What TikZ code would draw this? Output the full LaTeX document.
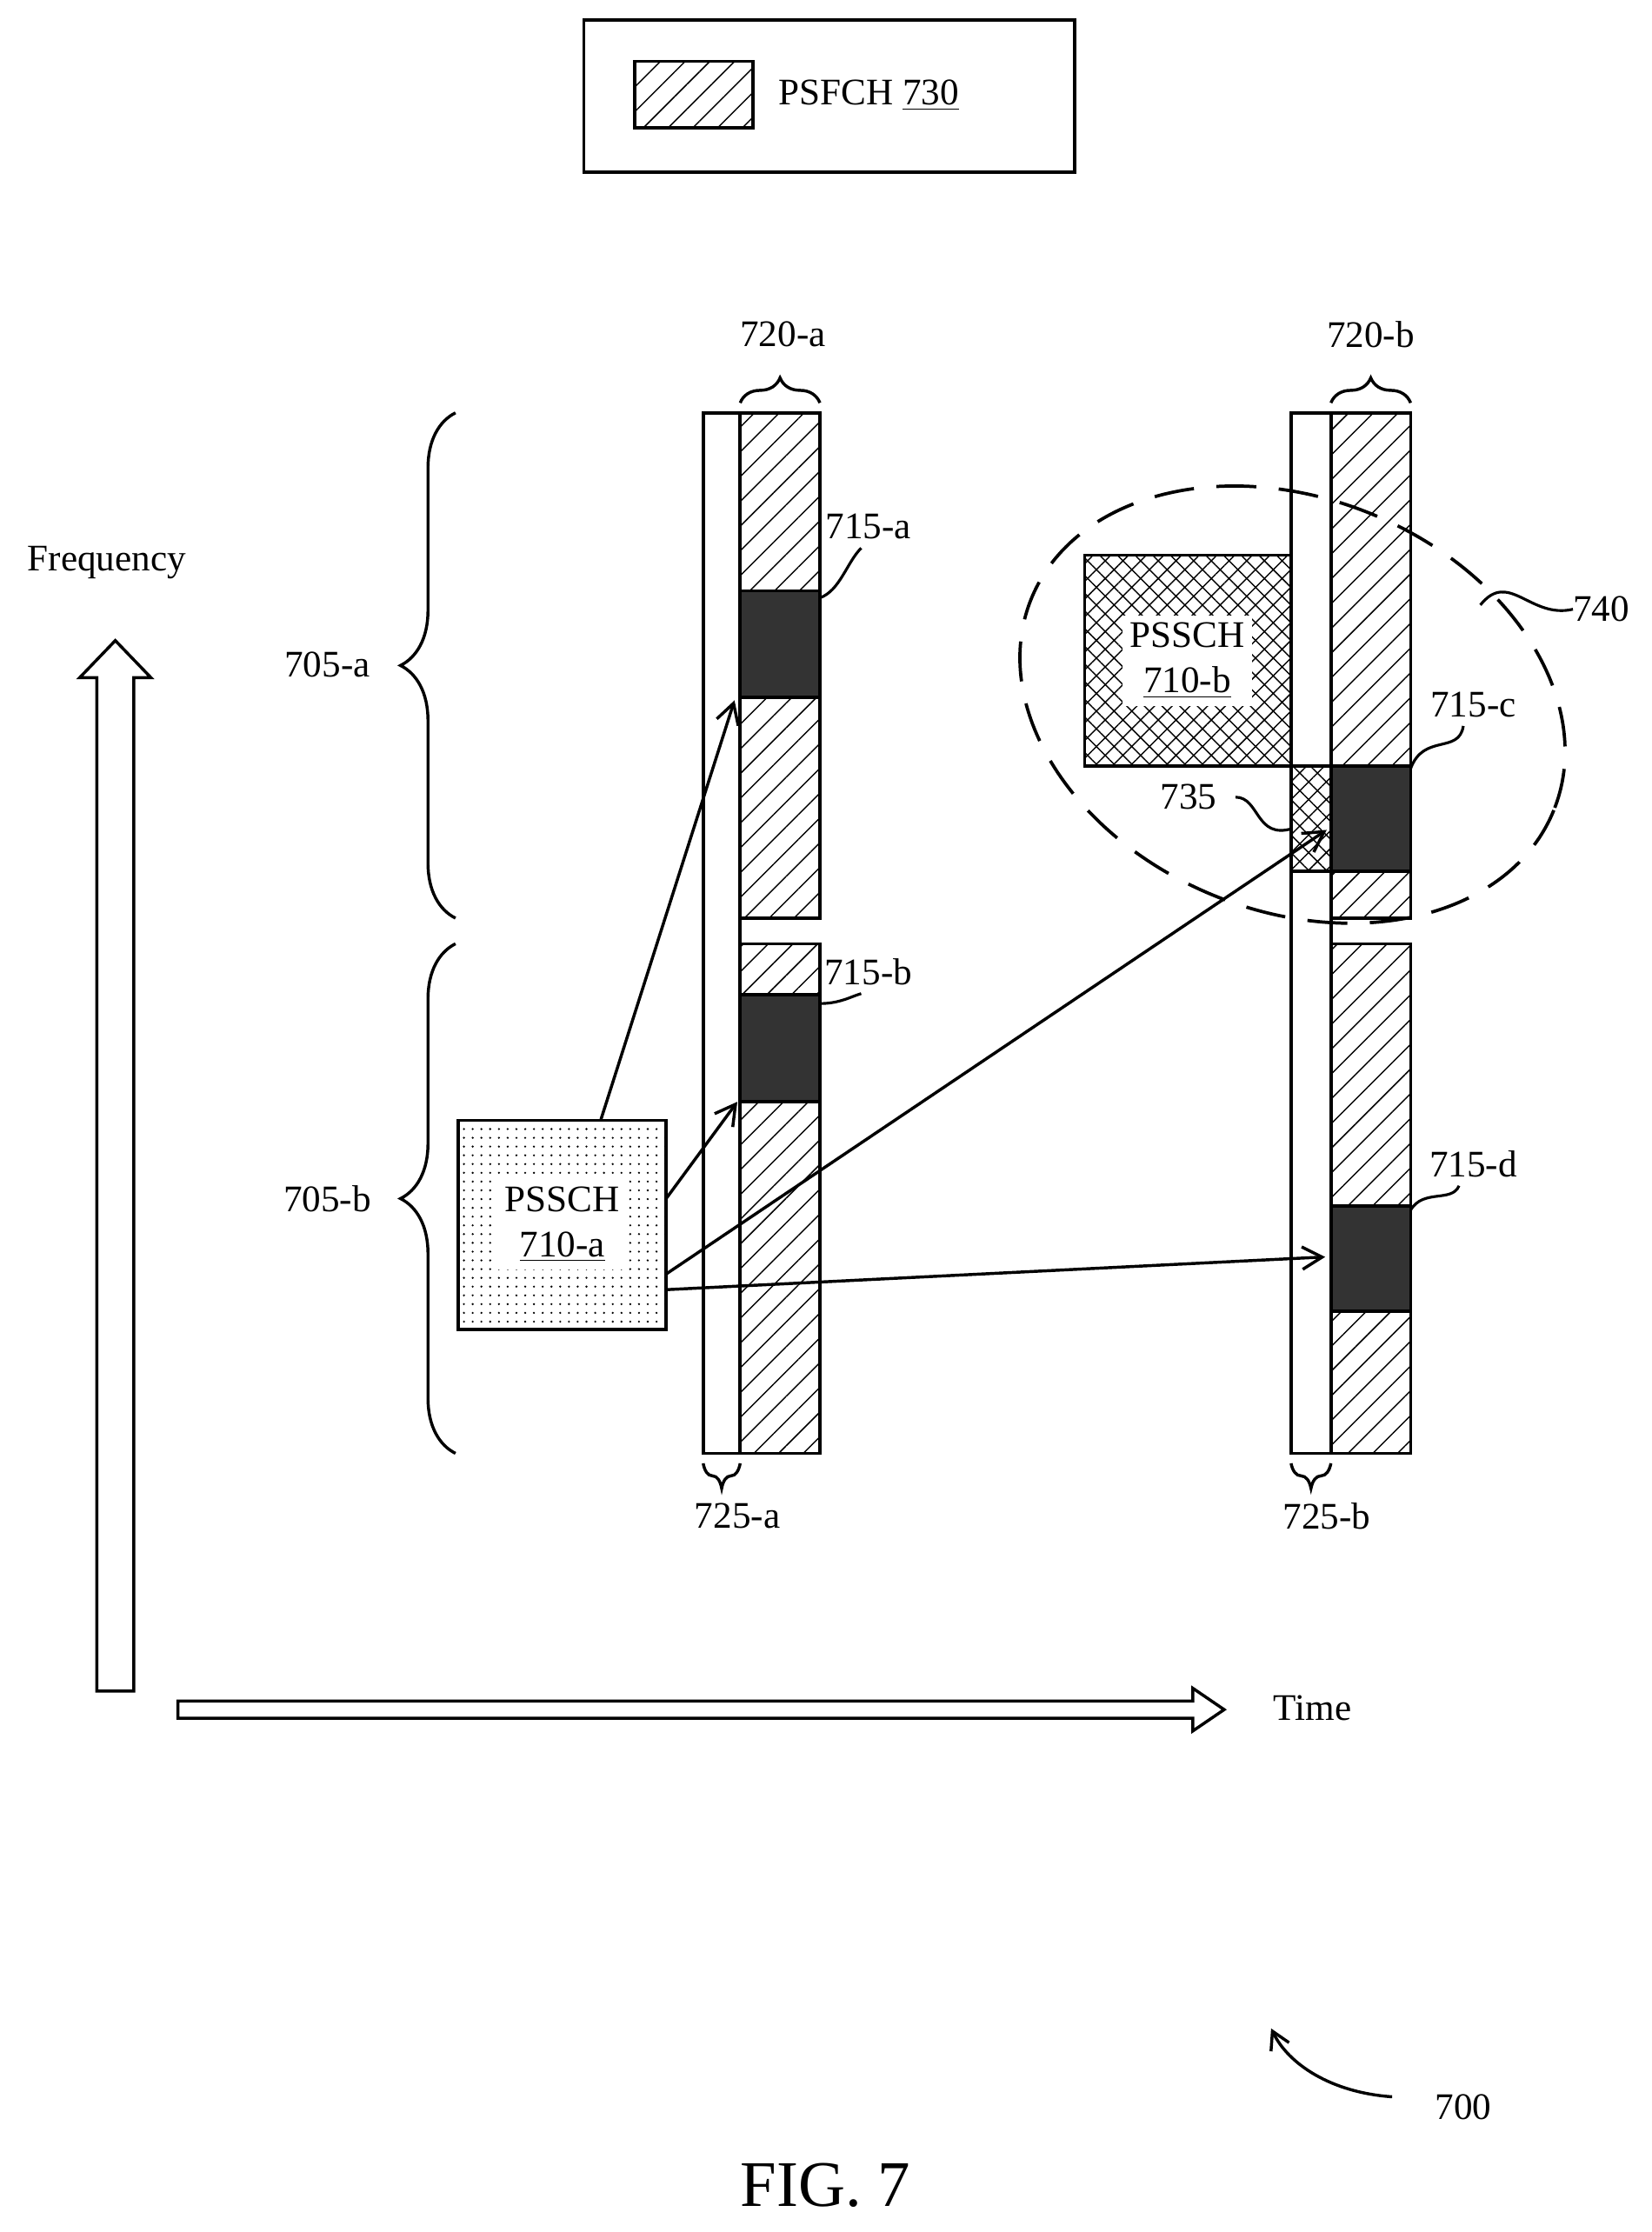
\documentclass[tikz,border=0pt]{standalone}
\usepackage{fontspec}
\setmainfont{Liberation Serif}
\usetikzlibrary{patterns.meta,decorations.pathreplacing,arrows.meta}
\begin{document}
\begin{tikzpicture}[x=0.02cm,y=-0.02cm,
 lbl/.style={font=\fontsize{15}{18}\selectfont,inner sep=1pt},
 box/.style={draw,line width=1.3pt},
 hat/.style={box,pattern={Lines[angle=45,distance=7pt,line width=0.5pt]}},
 xh/.style={box,pattern={Hatch[angle=45,distance=5pt,line width=0.5pt]}},
 dk/.style={box,fill=black!80},
 dt/.style={box,pattern={Dots[distance=3.5pt,radius=0.45pt]}},
 br/.style={decorate,decoration={brace,amplitude=10pt},line width=1.2pt},
 ld/.style={line width=1.1pt},
 ar/.style={line width=1.2pt,-{Straight Barb[length=8pt,width=9pt]}}]
\useasboundingbox (0,0) rectangle (1160,1568);
% legend
\draw[line width=1.2pt] (410,14) rectangle (755,121);
\draw[hat] (446,43) rectangle (529,90);
\node[lbl,anchor=west] (leg) at (545,67) {PSFCH \underline{730}};
% column a
\draw[hat] (520,290) rectangle (576,645);
\draw[dk] (520,415) rectangle (576,490);
\draw[hat] (520,663) rectangle (576,1021);
\draw[dk] (520,699) rectangle (576,774);
\draw[box,fill=white] (494,290) rectangle (520,1021);
% column b
\draw[hat] (935,290) rectangle (991,645);
\draw[dk] (935,538) rectangle (991,612);
\draw[hat] (935,663) rectangle (991,1021);
\draw[dk] (935,847) rectangle (991,921);
\draw[box,fill=white] (907,290) rectangle (935,1021);
\draw[xh] (907,538) rectangle (935,612);
% PSSCH boxes
\draw[xh] (762,390) rectangle (907,538);
\node[lbl,fill=white,align=center,inner sep=3pt] (pb) at (834,464) {PSSCH\\\underline{710-b}};
\draw[dt] (322,787) rectangle (468,934);
\node[lbl,fill=white,align=center,inner sep=3pt] (pa) at (395,860) {PSSCH\\\underline{710-a}};
% braces
\draw[br] (520,283) -- (576,283);
\node[lbl] (l720a) at (550,235) {720-a};
\draw[br] (935,283) -- (991,283);
\node[lbl] (l720b) at (963,235) {720-b};
\draw[br] (520,1028) -- (494,1028);
\node[lbl] (l725a) at (518,1065) {725-a};
\draw[br] (935,1028) -- (907,1028);
\node[lbl] (l725b) at (932,1065) {725-b};
\draw[decorate,decoration={brace,amplitude=22pt},line width=1.2pt] (320,645) -- (320,290);
\node[lbl] (l705a) at (230,467) {705-a};
\draw[decorate,decoration={brace,amplitude=22pt},line width=1.2pt] (320,1021) -- (320,663);
\node[lbl] (l705b) at (230,842) {705-b};
% axes
\node[lbl] (freq) at (75,395) {Frequency};
\draw[line width=1.2pt] (68,1188) -- (68,476) -- (56,476) -- (81,450) -- (106,476) -- (94,476) -- (94,1188) -- cycle;
\draw[line width=1.2pt] (125,1195) -- (838,1195) -- (838,1186) -- (860,1201) -- (838,1216) -- (838,1207) -- (125,1207) -- cycle;
\node[lbl] (time) at (922,1200) {Time};
% arrows
\draw[ar] (422,787) -- (516,492);
\draw[ar] (468,842) -- (518,774);
\draw[ar] (468,895) -- (932,583);
\draw[ar] (468,906) -- (931,883);
% ellipse
\draw[line width=1.3pt,dash pattern=on 16pt off 9pt,rotate around={-22:(908,495)}] (908,495) ellipse [x radius=198, y radius=145];
\node[lbl] (l740) at (1125,428) {740};
\draw[ld] (1040,425) .. controls (1060,400) and (1075,435) .. (1105,428);
% leaders
\node[lbl] (l715a) at (610,370) {715-a};
\draw[ld] (576,420) .. controls (590,415) and (595,395) .. (605,385);
\node[lbl] (l715b) at (610,683) {715-b};
\draw[ld] (576,705) .. controls (590,705) and (598,700) .. (605,698);
\node[lbl] (l715c) at (1035,495) {715-c};
\draw[ld] (991,540) .. controls (1000,515) and (1025,530) .. (1028,510);
\node[lbl] (l715d) at (1035,818) {715-d};
\draw[ld] (991,850) .. controls (1000,835) and (1020,845) .. (1025,833);
\node[lbl] (l735) at (835,560) {735};
\draw[ld] (868,560) .. controls (885,560) and (882,590) .. (908,582);
% 700
\node[lbl] (l700) at (1028,1480) {700};
\draw[line width=1.2pt,-{Straight Barb[length=7pt,width=8pt]}] (978,1473) .. controls (935,1470) and (905,1450) .. (893,1425);
\node[font=\fontsize{26}{30}\selectfont] (fig) at (580,1535) {FIG. 7};
\end{tikzpicture}
\end{document}
